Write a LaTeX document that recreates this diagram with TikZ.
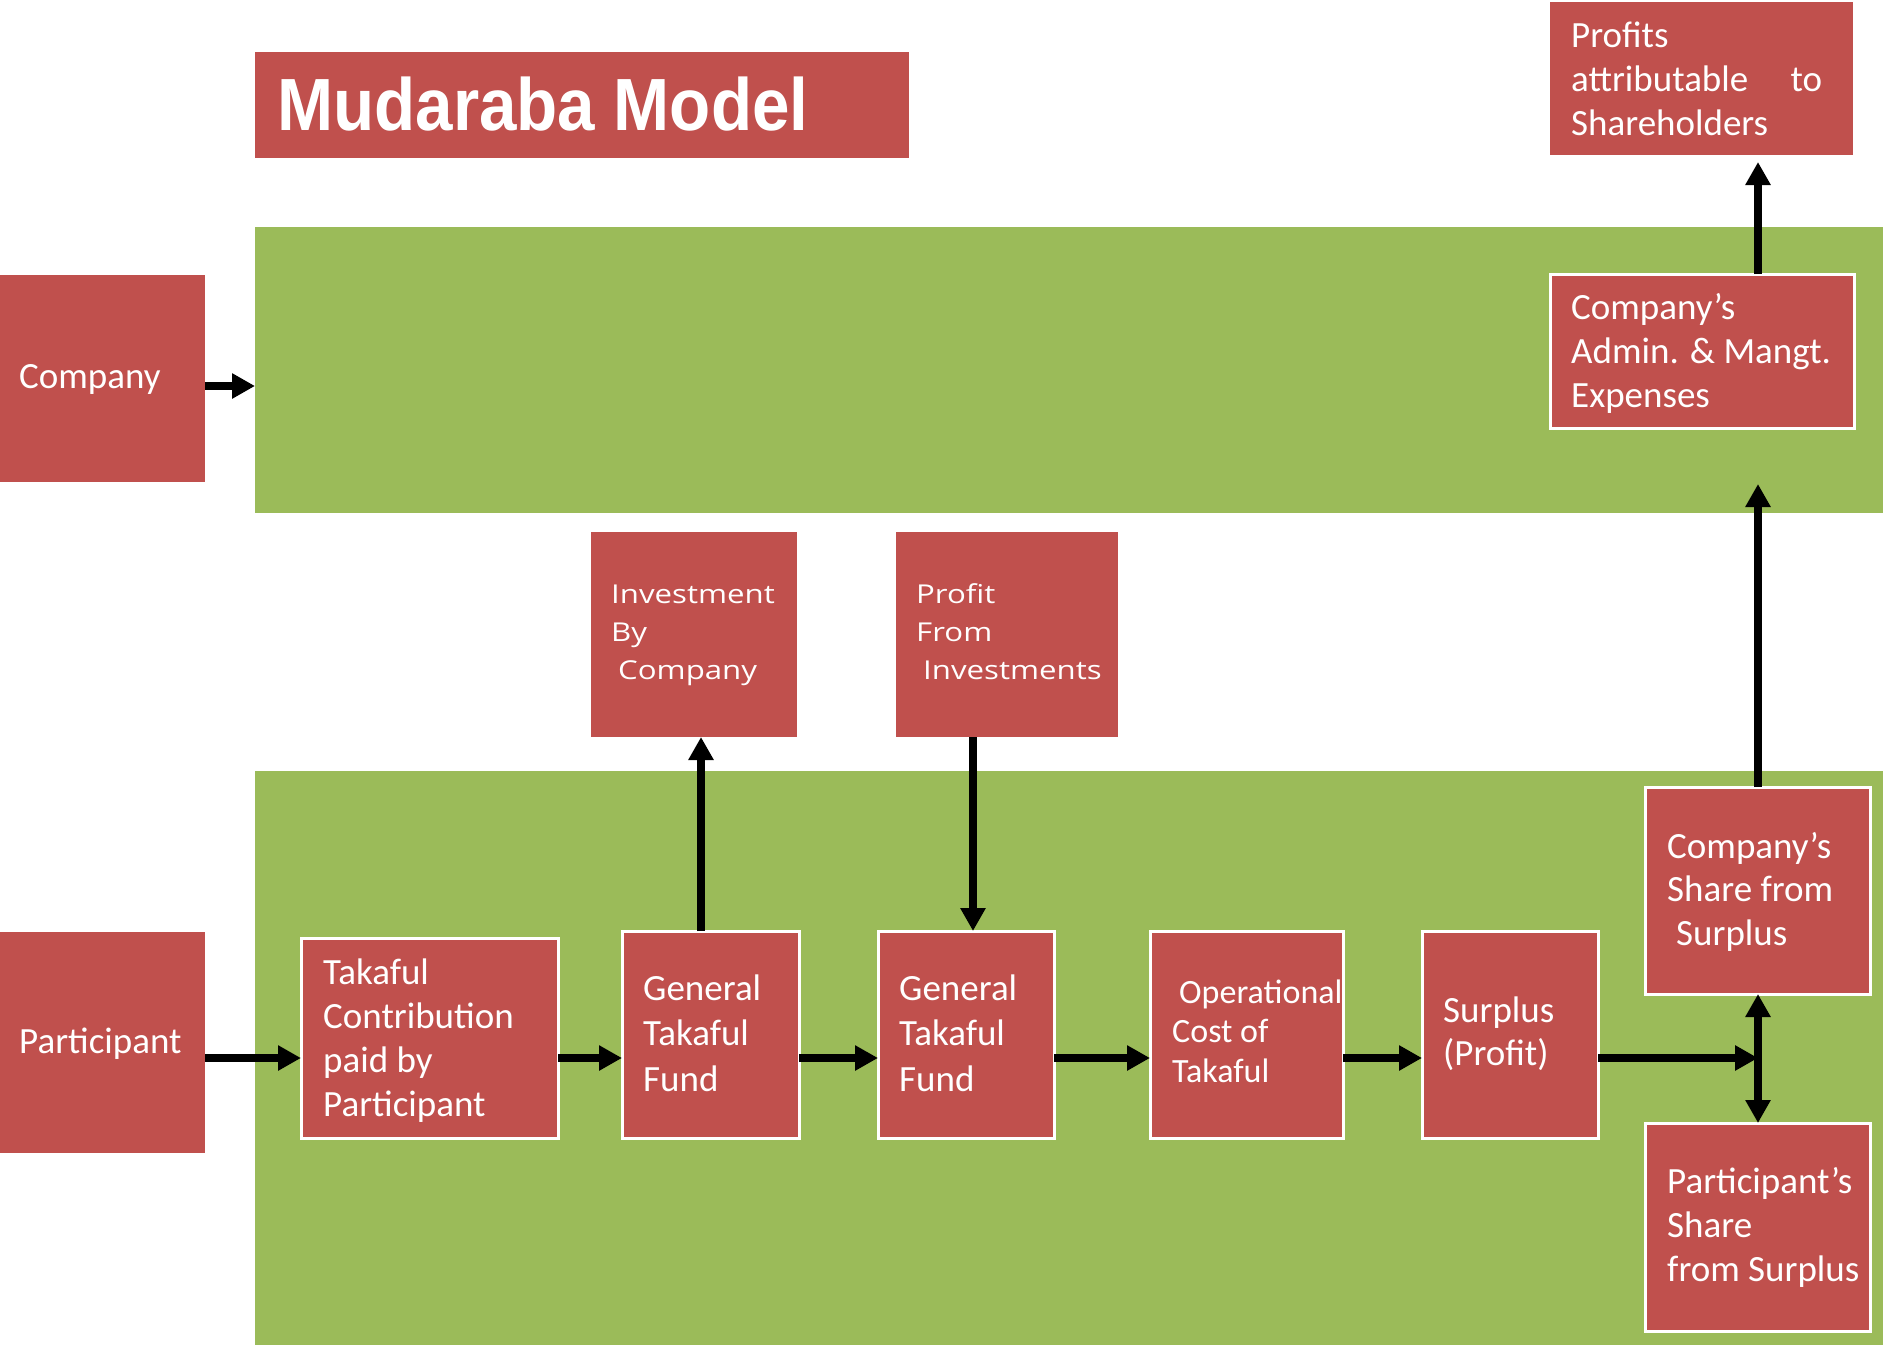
\documentclass[tikz,border=0pt]{standalone}
\usepackage{fontspec}
\usetikzlibrary{arrows.meta}
\newfontfamily\bx{Carlito}
\newfontfamily\ix[FakeStretch=1.2]{Open Sans}
\newfontfamily\tf[FakeStretch=0.91]{Liberation Sans}
\definecolor{boxred}{HTML}{C0504D}
\definecolor{bandgreen}{HTML}{9BBB59}
\newcommand\mlines[1]{\begin{tabular}[t]{@{}l@{}}#1\end{tabular}}
\begin{document}
\begin{tikzpicture}[x=1pt,y=-1pt,
  box/.style={fill=boxred, draw=none, rectangle, inner sep=0pt, outer sep=0pt, anchor=north west},
  wbox/.style={box, draw=white, line width=3pt},
  band/.style={fill=bandgreen, draw=none, rectangle, inner sep=0pt, outer sep=0pt, anchor=north west},
  txt/.style={text=white, font=\bx\fontsize{37}{44}\selectfont, align=left, inner sep=0pt, anchor=base west},
  arr/.style={line width=8pt, -{Triangle[length=23pt,width=24pt]}},
]
\useasboundingbox (0,0) rectangle (1883,1347);
% bands
\node[band, minimum width=1628pt, minimum height=286pt] (topband) at (255,227) {};
\node[band, minimum width=1628pt, minimum height=574pt] (botband) at (255,771) {};
% boxes
\node[box, minimum width=654pt, minimum height=106pt] (titlebox) at (255,52) {};
\node[box, minimum width=205pt, minimum height=207pt] (company) at (0,275) {};
\node[box, minimum width=205pt, minimum height=221pt] (participant) at (0,932) {};
\node[box, minimum width=303pt, minimum height=153pt] (profits) at (1550,2) {};
\node[wbox, minimum width=304pt, minimum height=154pt] (admin) at (1550,274) {};
\node[box, minimum width=206pt, minimum height=205pt] (invest) at (591,532) {};
\node[box, minimum width=222pt, minimum height=205pt] (pfi) at (896,532) {};
\node[wbox, minimum width=257pt, minimum height=200pt] (contrib) at (301,938) {};
\node[wbox, minimum width=177pt, minimum height=207pt] (gtf1) at (622,931) {};
\node[wbox, minimum width=176pt, minimum height=207pt] (gtf2) at (878,931) {};
\node[wbox, minimum width=193pt, minimum height=207pt] (opcost) at (1150,931) {};
\node[wbox, minimum width=176pt, minimum height=207pt] (surplus) at (1422,931) {};
\node[wbox, minimum width=225pt, minimum height=207pt] (coshare) at (1645,787) {};
\node[wbox, minimum width=225pt, minimum height=208pt] (pshare) at (1645,1123) {};
% texts
\node[text=white, font=\tf\bfseries\fontsize{74}{80}\selectfont, inner sep=0pt, anchor=base west] (ttitle) at (277,130) {Mudaraba Model};
\node[txt] (tcompany) at (19,388) {Company};
\node[txt] (tparticipant) at (19,1053) {Participant};
\node[txt] (tcontrib) at (323,984) {\mlines{Takaful\\Contribution\\paid by\\Participant}};
\node[txt, font=\bx\fontsize{37}{45.5}\selectfont] (tgtf1) at (643,1000) {\mlines{General\\Takaful\\Fund}};
\node[txt, font=\bx\fontsize{37}{45.5}\selectfont] (tgtf2) at (899,1000) {\mlines{General\\Takaful\\Fund}};
\node[txt, font=\bx\fontsize{34}{39.5}\selectfont] (topcost) at (1172,1003) {\mlines{\hspace*{7pt}Operational\\Cost of\\Takaful}};
\node[txt, font=\bx\fontsize{37}{43}\selectfont] (tsurplus) at (1443,1022) {\mlines{Surplus\\(Profit)}};
\node[txt, font=\bx\fontsize{37}{43.5}\selectfont] (tcoshare) at (1667,858) {\mlines{Company’s\\Share from\\\hspace*{9pt}Surplus}};
\node[txt] (tpshare) at (1667,1193) {\mlines{Participant’s\\Share\\from Surplus}};
\node[txt] (tadmin) at (1571,319) {\mlines{Company’s\\Admin. \& Mangt.\\Expenses}};
\node[txt] (tprofits) at (1571,47) {\mlines{Profits\\\makebox[251pt][l]{attributable\hfill to}\\Shareholders}};
\node[txt, font=\ix\fontsize{26}{38}\selectfont] (tinvest) at (611,603) {\mlines{Investment\\By\\\hspace*{7pt}Company}};
\node[txt, font=\ix\fontsize{26}{38}\selectfont] (tpfi) at (916,603) {\mlines{Profit\\From\\\hspace*{7pt}Investments}};
% connectors
\coordinate (r) at (0,1058);
\coordinate (j) at (1758,1058);
\coordinate (c1) at (701,0);
\coordinate (c2) at (973,0);
\coordinate (up) at (1758,484);
\draw[arr] ([yshift=-7.5pt]company.east) -- ([yshift=-7.5pt]company.east -| topband.west);
\draw[arr] (participant.east |- r) -- (contrib.west |- r);
\draw[arr] (contrib.east |- r) -- (gtf1.west |- r);
\draw[arr] (gtf1.east |- r) -- (gtf2.west |- r);
\draw[arr] (gtf2.east |- r) -- (opcost.west |- r);
\draw[arr] (opcost.east |- r) -- (surplus.west |- r);
\draw[arr] (surplus.east |- r) -- (j);
\draw[arr] (j) -- (j |- coshare.south);
\draw[arr] (j) -- (j |- pshare.north);
\draw[arr] (gtf1.north -| c1) -- (invest.south -| c1);
\draw[arr] (pfi.south -| c2) -- (gtf2.north -| c2);
\draw[arr] (coshare.north -| j) -- (up);
\draw[arr] (admin.north -| j) -- ([yshift=-7pt]profits.south -| j);
\end{tikzpicture}
\end{document}
